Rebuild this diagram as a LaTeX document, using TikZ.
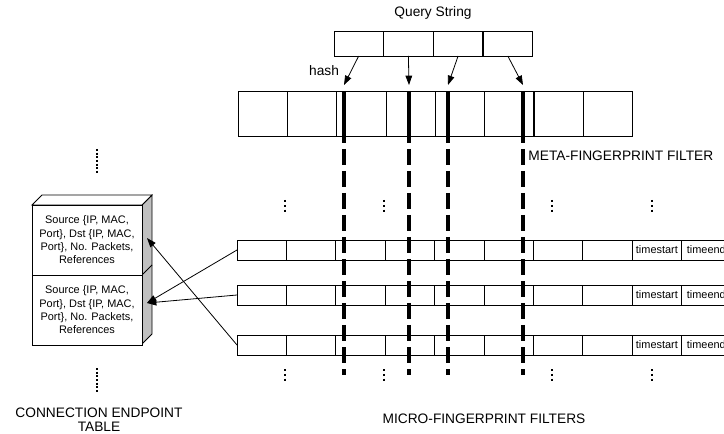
\documentclass[tikz,border=0pt]{standalone}
\usepackage{fontspec}
\setmainfont{Liberation Sans}
\usetikzlibrary{arrows.meta}
\definecolor{SideGray}{RGB}{192,192,192}

\begin{document}
\begin{tikzpicture}[x=0.75pt, y=-0.75pt, line width=0.6pt, font=\fontsize{10.3}{10.5}\selectfont,
	cell/.style={draw, anchor=north west, inner sep=0pt, outer sep=0pt, minimum width=37.05pt},
	record/.style={draw, fill=white, anchor=north west, inner sep=0pt, outer sep=0pt, minimum width=82.5pt, minimum height=52.5pt, align=center, font=\fontsize{8.2}{10}\selectfont},
	small/.style={font=\fontsize{8.2}{10}\selectfont},
	hit/.style={line width=2.6pt},
	ptr/.style={-{Triangle[length=7pt, width=5pt]}},
	vdots/.style={line width=2pt, dash pattern=on 1.8pt off 1.8pt}]
	\useasboundingbox (0,0) rectangle (724,434);
	\clip (0,0) rectangle (724,434);

	\node (query) at (433,13) {Query String};
	\foreach \i in {1,...,4}
		\node[cell, minimum height=18.75pt] (q\i) at ({334+49.7*(\i-1)},31) {};
	\foreach \i in {1,...,8}
		\node[cell, minimum height=33.75pt] (m\i) at ({238+49.3*(\i-1)},91) {};
	\node[anchor=west, inner sep=0pt] (metalbl) at (528,156) {META-FINGERPRINT FILTER};

	\foreach \row/\y in {1/240, 2/285, 3/335} {
		\foreach \i in {1,...,8}
			\node[cell, minimum height=15pt] (r\row-\i) at ({237+49.4*(\i-1)},\y) {};
		\node[cell, small, minimum height=15pt] (r\row-ts) at (632.2,\y) {timestart};
		\node[cell, small, minimum height=15pt] (r\row-te) at (681.6,\y) {timeend};
	}
	\node (microlbl) at (484,419) {MICRO-FINGERPRINT FILTERS};

	\node (hashlbl) at (324,71) {hash};
	\foreach \i/\x in {1/344, 2/409, 3/448, 4/523} {
		\coordinate (h\i) at (\x,85);
		\draw[hit] (\x,91) -- (\x,143);
		\draw[hit, dash pattern=on 12pt off 4.5pt] (\x,149) -- (\x,375);
		\draw[ptr] (q\i.south) -- (h\i);
	}

	\foreach \x in {285,384,552,652} {
		\draw[vdots] (\x,200) -- (\x,212);
		\draw[vdots] (\x,369) -- (\x,381);
	}
	\draw[vdots, line width=1.7pt, dash pattern=on 1.5pt off 1.25pt] (97,149) -- (97,173);
	\draw[vdots, line width=1.7pt, dash pattern=on 1.5pt off 1.25pt] (97,368) -- (97,392);

	\filldraw[fill=SideGray] (142,205) -- (152,195) -- (152,334) -- (142,344) -- cycle;
	\filldraw[fill=white] (32,205) -- (42,195) -- (152,195) -- (142,205) -- cycle;
	\draw (142,275) -- (152,265);
	\node[record] (rec1) at (32,205) {Source \{IP, MAC,\\Port\}, Dst \{IP, MAC,\\Port\}, No. Packets,\\References};
	\node[record] (rec2) at (32,275) {Source \{IP, MAC,\\Port\}, Dst \{IP, MAC,\\Port\}, No. Packets,\\References};
	\node[align=center] (tablelbl) at (99,420) {CONNECTION ENDPOINT\\TABLE};

	\coordinate (e1) at (147,238);
	\coordinate (e2) at (147,303);
	\draw[ptr] (r1-1.west) -- (e2);
	\draw[ptr] (r2-1.west) -- (e2);
	\draw[ptr] (r3-1.west) -- (e1);
\end{tikzpicture}
\end{document}
